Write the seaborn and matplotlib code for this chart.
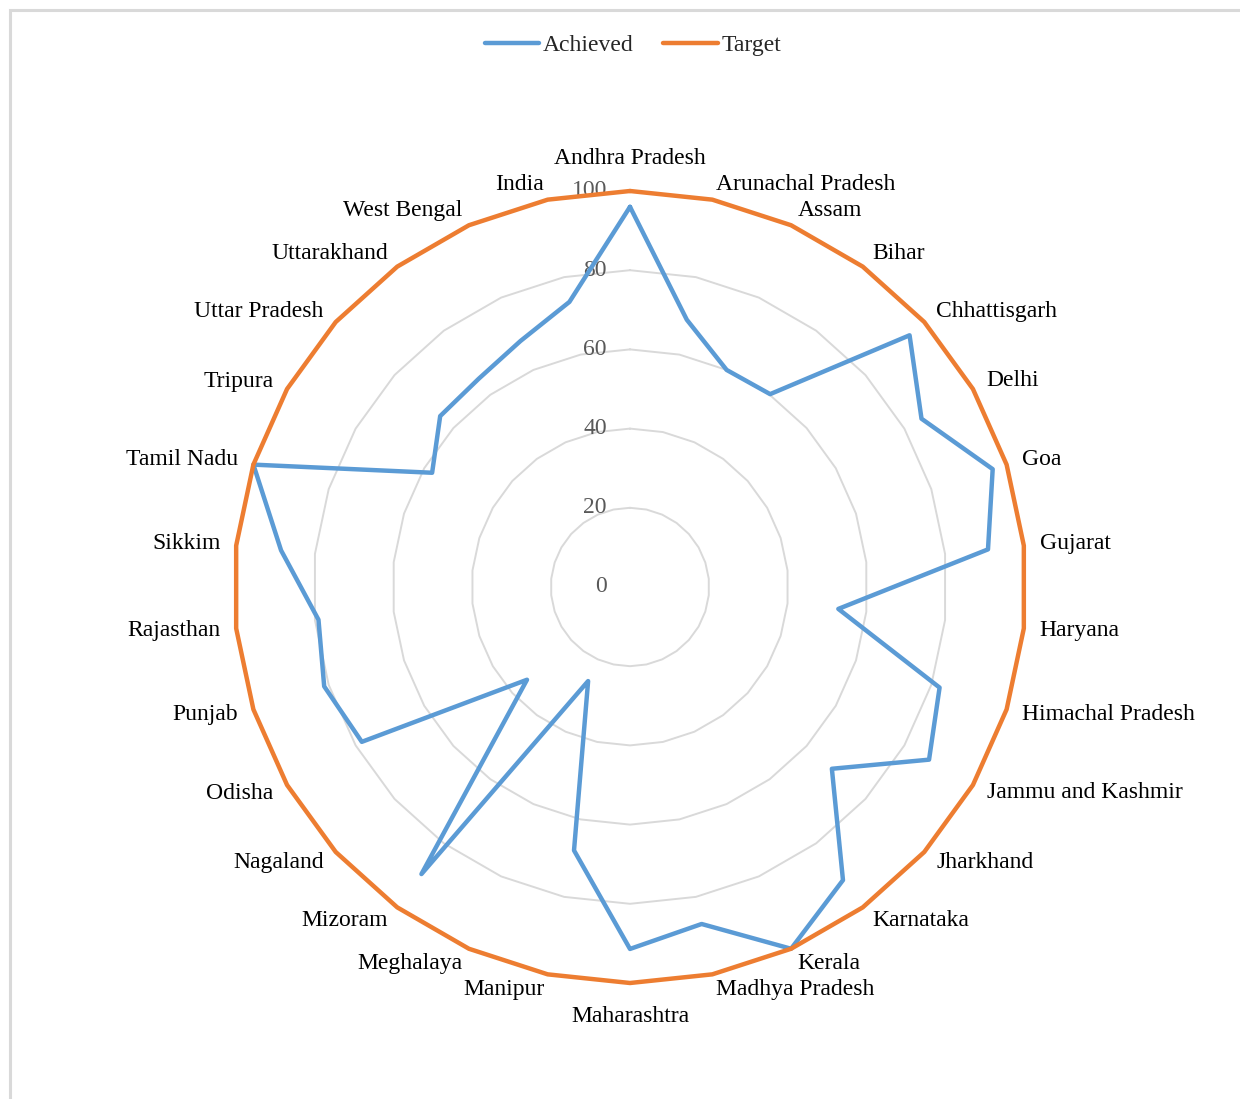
import numpy as np
import pandas as pd
import matplotlib
matplotlib.use("Agg")
import matplotlib.pyplot as plt
import seaborn as sns
from matplotlib.patches import Rectangle
from matplotlib.lines import Line2D

# ---------------- data ----------------
categories = ["Andhra Pradesh", "Arunachal Pradesh", "Assam", "Bihar", "Chhattisgarh",
              "Delhi", "Goa", "Gujarat", "Haryana", "Himachal Pradesh",
              "Jammu and Kashmir", "Jharkhand", "Karnataka", "Kerala", "Madhya Pradesh",
              "Maharashtra", "Manipur", "Meghalaya", "Mizoram", "Nagaland",
              "Odisha", "Punjab", "Rajasthan", "Sikkim", "Tamil Nadu",
              "Tripura", "Uttar Pradesh", "Uttarakhand", "West Bengal", "India"]
achieved = [96, 69, 60, 60.2, 95,
            85, 96.3, 90.9, 52.9, 82.2,
            87.2, 68.6, 91.5, 100, 87,
            91.4, 68, 26, 89.6, 35,
            78.2, 81.2, 79.1, 88.6, 100,
            57.7, 64.5, 65, 68, 73.6]
target = [100] * 30
series_names = ["Achieved", "Target"]
radial_ticks = [0, 20, 40, 60, 80, 100]

colors = {"Achieved": "#5B9BD5", "Target": "#ED7D31"}

# ---------------- build table ----------------
n = len(categories)
theta = np.arange(n) * 2 * np.pi / n
theta_closed = np.append(theta, 2 * np.pi)
rows = []
for name, vals in zip(series_names, [achieved, target]):
    vclosed = list(vals) + [vals[0]]
    for i, (t, v) in enumerate(zip(theta_closed, vclosed)):
        rows.append({"order": i, "theta": t, "value": v, "series": name})
df = pd.DataFrame(rows)

# ---------------- figure ----------------
sns.set_style("white")
plt.rcParams["font.family"] = ["Liberation Serif", "DejaVu Serif"]

fig = plt.figure(figsize=(12.4, 10.99), dpi=100)
cx, cy, R = 630 / 1240, 1 - 587 / 1099, 396
wf, hf = R / 1240, R / 1099
ax = fig.add_axes([cx - wf, cy - hf, 2 * wf, 2 * hf], projection="polar")
ax.set_theta_zero_location("N")
ax.set_theta_direction(-1)

# polygonal grid
for lvl in radial_ticks[1:]:
    ax.plot(theta_closed, [lvl] * (n + 1), color="#D9D9D9", lw=1.4, zorder=1,
            clip_on=False)

sns.lineplot(data=df, x="theta", y="value", hue="series", palette=colors,
             sort=False, estimator=None, units="series", ax=ax, linewidth=3.2,
             zorder=3, legend=False)
for ln in ax.get_lines():
    ln.set_clip_on(False)

ax.set_ylim(0, 100)
ax.grid(False)
ax.spines["polar"].set_visible(False)
ax.set_xticks([])
ax.set_yticks([])
ax.set_xlabel("")
ax.set_ylabel("")
ax.patch.set_alpha(0)

FS = 17

# radial tick labels
for lvl in radial_ticks:
    ax.annotate(str(lvl), xy=(0, lvl), xytext=(-23, 0), textcoords="offset pixels",
                ha="right", va="center", fontsize=FS, color="#595959", zorder=2)

# category labels
for t, lab in zip(theta, categories):
    s, c = np.sin(t), np.cos(t)
    if abs(s) < 0.05:
        off = 33
        ha = "center"
    else:
        off = 16
        ha = "left" if s > 0 else "right"
    ax.annotate(lab, xy=(t, 100), xytext=(off * s, off * c), textcoords="offset pixels",
                ha=ha, va="center", fontsize=FS, color="#000000",
                annotation_clip=False)

# legend
handles = [Line2D([], [], color=colors[s], lw=3.2, solid_capstyle="round") for s in series_names]
fig.legend(handles, series_names, loc="center", bbox_to_anchor=(633 / 1240, 1 - 45 / 1099),
           ncol=2, frameon=False, fontsize=FS, handlelength=2.3, handletextpad=0.15,
           columnspacing=1.25)

# chart-area border (top-left visible)
fig.patches.append(Rectangle((10 / 1240, -0.05), 1.2, 1 - 10 / 1099 + 0.05,
                             transform=fig.transFigure, fill=False,
                             edgecolor="#D9D9D9", lw=2.2, zorder=0))

fig.savefig("out.png", dpi=100)
